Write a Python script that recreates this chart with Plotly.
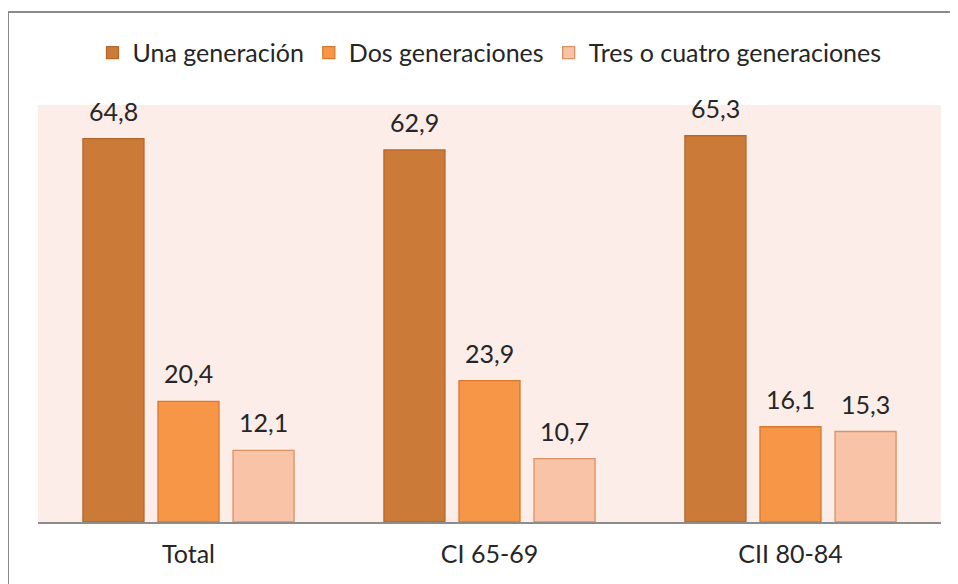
import plotly.graph_objects as go

categories = ["Total", "CI 65-69", "CII 80-84"]
series_names = ["Una generación", "Dos generaciones", "Tres o cuatro generaciones"]
una = [64.8, 62.9, 65.3]
dos = [20.4, 23.9, 16.1]
tres = [12.1, 10.7, 15.3]

fills = ["#CC7A37", "#F79646", "#F9C3A7"]
lines = ["#B5662A", "#D9772E", "#DB9161"]
FONT = "Lato, Open Sans, sans-serif"
BARGAP = 0.252
L, T, PW, PH = 30, 97, 903, 417
W, H = 958, 584

fig = go.Figure()
annotations = []
for k, (name, vals, fc, lc) in enumerate(zip(series_names, [una, dos, tres], fills, lines)):
    fig.add_trace(go.Bar(
        x=categories, y=vals, name=name,
        marker=dict(color=fc, line=dict(color=lc, width=1.3)),
    ))
    slot = (1 - BARGAP) / 3
    for i, v in enumerate(vals):
        annotations.append(dict(
            x=i + (k - 1) * slot, y=v, xref="x", yref="y",
            text=f"{v:.1f}".replace(".", ","), showarrow=False,
            yanchor="bottom", yshift=11,
            font=dict(size=25, color="#262626", family=FONT),
        ))

fig.update_layout(
    width=W, height=H,
    margin=dict(l=L, r=W - L - PW, t=T, b=H - T - PH),
    paper_bgcolor="white", plot_bgcolor="#FCEDE8",
    barmode="group", bargap=BARGAP, bargroupgap=0.187,
    font=dict(family=FONT, size=25, color="#262626"),
    showlegend=True,
    legend=dict(orientation="h", x=0.5, xanchor="center", y=1.125, yanchor="middle",
                font=dict(size=25, family=FONT), traceorder="normal",
                bgcolor="rgba(0,0,0,0)"),
    xaxis=dict(showline=True, linecolor="#8C8C8C", linewidth=1.5, ticks="",
               tickfont=dict(size=25), showgrid=False, ticklabelstandoff=9),
    yaxis=dict(range=[0, 70.5], visible=False, showgrid=False),
    annotations=annotations,
    shapes=[dict(type="rect", xref="paper", yref="paper",
                 x0=(0 - L) / PW, x1=(W + 20 - L) / PW,
                 y0=-(H + 20 - T - PH) / PH, y1=(T + PH - 4) / PH,
                 line=dict(color="#8A8A8A", width=2), fillcolor="rgba(0,0,0,0)", layer="below")],
)

fig.write_html("out.html")
